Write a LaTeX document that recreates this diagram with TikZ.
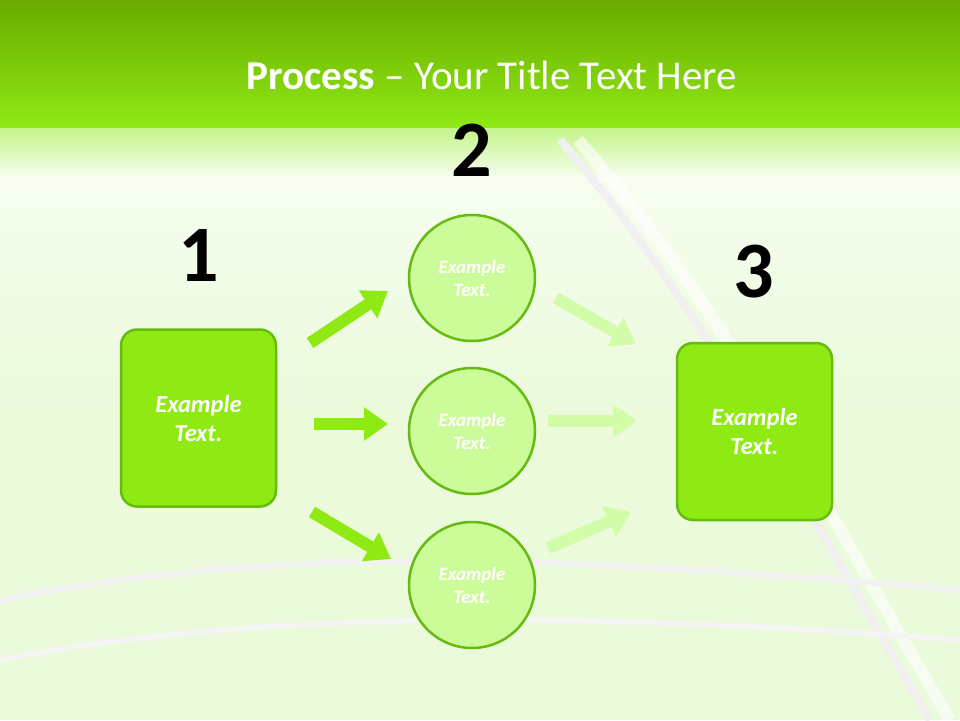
\documentclass[tikz,border=0pt]{standalone}
\usepackage{fontspec}
\setmainfont{Carlito}
\usetikzlibrary{arrows.meta}
\definecolor{topg}{HTML}{6AAA00}
\definecolor{bandg}{HTML}{8FEA14}
\definecolor{boxg}{HTML}{8EEA12}
\definecolor{edgeg}{HTML}{66BB11}
\definecolor{circg}{HTML}{CCFB99}
\definecolor{paleg}{HTML}{EAFADA}
\definecolor{arrg}{HTML}{8EEA12}
\definecolor{arrp}{HTML}{D2FCA8}
\begin{document}
\begin{tikzpicture}[x=1pt,y=-1pt,
  box/.style={draw=edgeg,line width=2.5pt,fill=boxg,rounded corners=16pt,minimum width=155pt,minimum height=177pt,text=white,font=\bfseries\itshape\fontsize{24.5}{29}\selectfont,align=center},
  circ/.style={circle,draw=edgeg,line width=2.5pt,fill=circg,minimum size=126pt,text=white,font=\bfseries\itshape\fontsize{19}{23}\selectfont,align=center},
  num/.style={font=\bfseries\fontsize{80}{80}\selectfont,text=black},
  barr/.style={line width=12pt,-{Triangle[width=32pt,length=24pt]}},
]
\useasboundingbox (0,0) rectangle (960,720);
\fill[paleg] (0,0) rectangle (960,720);
\shade[top color=white!70!paleg,bottom color=paleg] (0,128) rectangle (960,420);
\shade[top color=topg,bottom color=bandg] (0,0) rectangle (960,128);
\shade[top color=bandg!40!paleg,bottom color=white!70!paleg] (0,128) rectangle (960,180);
\draw[gray!12,line width=8pt] (560,140) .. controls (700,300) and (800,500) .. (930,720);
\draw[white,line width=12pt,opacity=0.6] (578,140) .. controls (720,300) and (820,500) .. (950,720);
\draw[gray!10,line width=6pt] (0,600) .. controls (300,540) and (600,560) .. (960,590);
\draw[gray!8,line width=5pt] (0,660) .. controls (300,600) and (700,620) .. (960,640);
\node (title) at (492,75) {\fontsize{41}{46}\selectfont\color{white}\textbf{Process} – Your Title Text Here};
\node[num] (n1) at (199,256) {1};
\node[num] (n2) at (472,150) {2};
\node[num] (n3) at (754,272) {3};
\node[box] (b1) at (198.5,418) {Example\\Text.};
\node[box] (b3) at (754.5,431.5) {Example\\Text.};
\node[circ] (c1) at (472,278) {Example\\Text.};
\node[circ] (c2) at (472,431) {Example\\Text.};
\node[circ] (c3) at (472,585) {Example\\Text.};
\coordinate (a1s) at (310,343); \coordinate (a1e) at (388,291);
\coordinate (a2s) at (314,424); \coordinate (a2e) at (388,424);
\coordinate (a3s) at (312,512); \coordinate (a3e) at (391,559);
\coordinate (r1s) at (556,298); \coordinate (r1e) at (636,344);
\coordinate (r2s) at (548,421); \coordinate (r2e) at (637,421);
\coordinate (r3s) at (548,548); \coordinate (r3e) at (631,512);
\draw[barr,arrg] (a1s) -- (a1e);
\draw[barr,arrg] (a2s) -- (a2e);
\draw[barr,arrg] (a3s) -- (a3e);
\draw[barr,arrp] (r1s) -- (r1e);
\draw[barr,arrp] (r2s) -- (r2e);
\draw[barr,arrp] (r3s) -- (r3e);
\end{tikzpicture}
\end{document}
